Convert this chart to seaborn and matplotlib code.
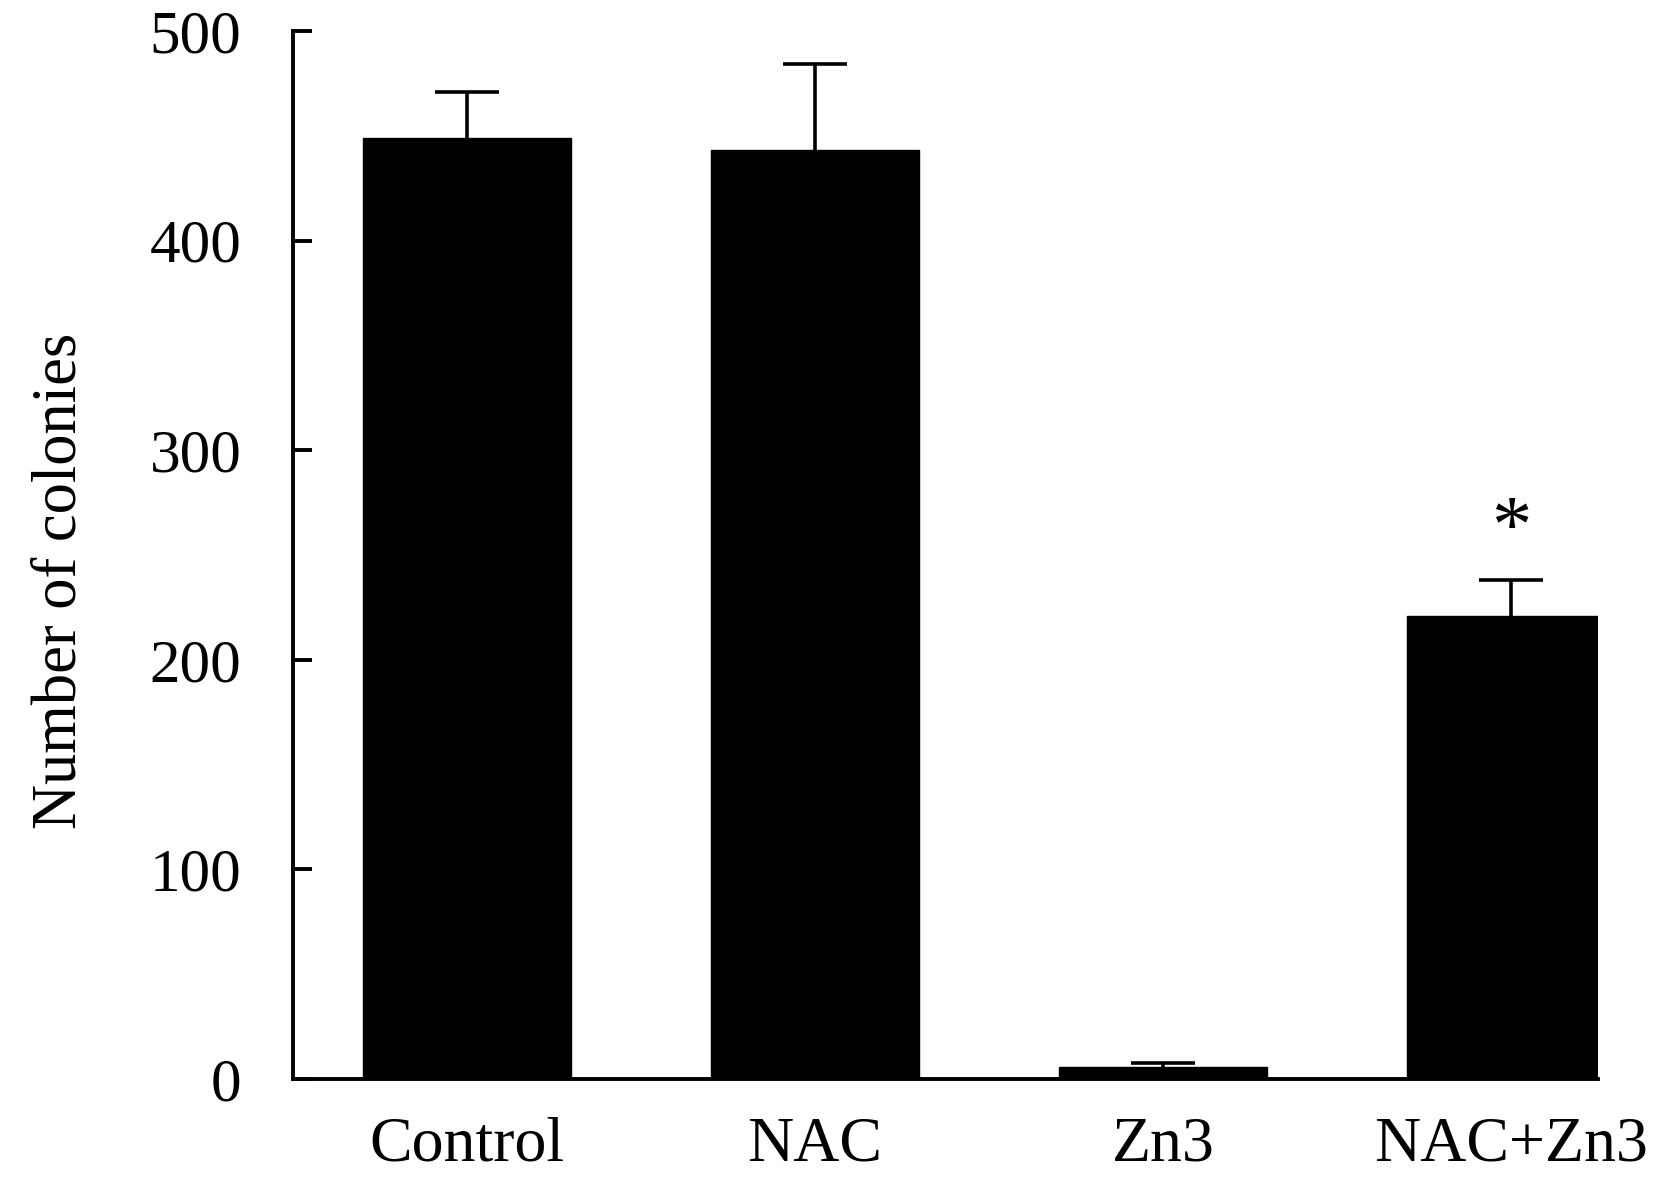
import numpy as np
import pandas as pd
import matplotlib
matplotlib.use('Agg')
import matplotlib.pyplot as plt
import seaborn as sns

groups = ['Control', 'NAC', 'Zn3', 'NAC+Zn3']
colonies = [449, 443, 5.7, 221]
err_up = [22, 41, 2, 17]
yticks = [0, 100, 200, 300, 400, 500]

sns.set_style('ticks')
plt.rcParams['font.family'] = ['Liberation Serif', 'DejaVu Serif']
plt.rcParams['text.color'] = 'black'
plt.rcParams['axes.labelcolor'] = 'black'
plt.rcParams['xtick.color'] = 'black'
plt.rcParams['ytick.color'] = 'black'

df = pd.DataFrame({'group': groups, 'colonies': colonies})

fig = plt.figure(figsize=(16.54, 12.04), dpi=100)
ax = fig.add_axes([0.1771, 0.1038, 0.9661 - 0.1771, 0.9743 - 0.1038])

sns.barplot(data=df, x='group', y='colonies', color='black', saturation=1,
            width=0.6, errorbar=None, ax=ax, edgecolor='black')

xpos = np.arange(len(groups))
_, caps, _ = ax.errorbar(xpos, colonies, yerr=[np.zeros(len(groups)), err_up], fmt='none',
                         ecolor='black', elinewidth=2.6, capsize=23, capthick=2.6, zorder=1)
# only the upper cap is wanted
caps[0].remove()

# significance mark
ax.text(xpos[3], 261, '*', ha='center', va='center', fontsize=58, color='black')

ax.set_xlim(-0.5, 3.25)
ax.set_ylim(0, 500)
ax.set_yticks(yticks)
ax.set_yticklabels([str(v) for v in yticks])
ax.tick_params(axis='y', direction='in', length=14, width=2.8, labelsize=44, pad=37)
ax.tick_params(axis='x', length=0, labelsize=46, pad=27)

ax.set_xlabel('')
ax.set_ylabel('Number of colonies', fontsize=45)
ax.yaxis.set_label_coords(-0.156, 0.475)

sns.despine(ax=ax)
for s in ['left', 'bottom']:
    ax.spines[s].set_linewidth(2.8)
    ax.spines[s].set_color('black')

fig.savefig('out.png', dpi=100)
